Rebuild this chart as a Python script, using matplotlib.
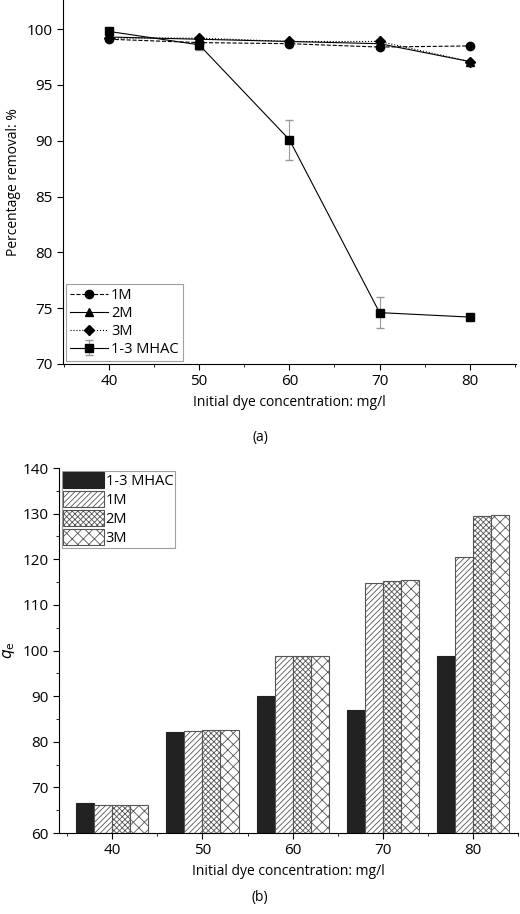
import matplotlib
matplotlib.use("Agg")
import matplotlib.pyplot as plt
import numpy as np
from matplotlib.ticker import MultipleLocator

plt.rcParams['font.family'] = ['Open Sans', 'DejaVu Sans']
plt.rcParams['hatch.linewidth'] = 0.6

conc = [40, 50, 60, 70, 80]
series = ["1-3 MHAC", "1M", "2M", "3M"]
removal_mhac = [99.8, 98.6, 90.1, 74.6, 74.2]
removal_mhac_err = [0.1, 0.5, 1.8, 1.4, 0.0]
removal_1m = [99.1, 98.8, 98.7, 98.4, 98.5]
removal_2m = [99.3, 99.1, 98.9, 98.7, 97.1]
removal_3m = [99.2, 99.2, 98.9, 98.9, 97.1]
qe_mhac = [66.6, 82.2, 90.1, 87.0, 98.9]
qe_1m = [66.1, 82.3, 98.7, 114.9, 120.5]
qe_2m = [66.1, 82.6, 98.8, 115.3, 129.6]
qe_3m = [66.2, 82.6, 98.9, 115.4, 129.7]

fig = plt.figure(figsize=(5.2, 9.14), dpi=100)

ax1 = fig.add_axes([0.121, 0.6018, 0.871, 0.398])
ax1.errorbar(conc, removal_mhac, yerr=removal_mhac_err, color='black', lw=0.8,
             marker='s', ms=6, ecolor='#999999', elinewidth=0.8, capsize=3, label=series[0])
ax1.plot(conc, removal_1m, color='black', lw=0.8, ls='--', marker='o', ms=6, label=series[1])
ax1.plot(conc, removal_2m, color='black', lw=0.8, ls='-', marker='^', ms=6, label=series[2])
ax1.plot(conc, removal_3m, color='black', lw=0.8, ls=':', marker='D', ms=5, label=series[3])
ax1.set_xlim(34.9, 85.1)
ax1.set_ylim(70, 102.6)
ax1.set_xticks(conc)
ax1.xaxis.set_minor_locator(MultipleLocator(5))
ax1.set_yticks([70, 75, 80, 85, 90, 95, 100])
ax1.set_xlabel("Initial dye concentration: mg/l", fontsize=10)
ax1.set_ylabel("Percentage removal: %", fontsize=10)
leg1 = ax1.legend(loc='lower left', fontsize=10.5, frameon=True, fancybox=False,
                  edgecolor='#888888', borderpad=0.3, labelspacing=0.2, handlelength=2.6,
                  handletextpad=0.2, borderaxespad=0.2)
leg1.get_frame().set_linewidth(0.8)
fig.text(0.5, 1 - 438/914, "(a)", ha='center', va='center', fontsize=10)

ax2 = fig.add_axes([0.1135, 0.0886, 0.883, 0.3993])
w = 2.0
offs = [-3, -1, 1, 3]
styles = [dict(color='#222222', edgecolor='#222222'),
          dict(color='white', edgecolor='#555555', hatch='//////'),
          dict(color='white', edgecolor='#555555', hatch='xxxxxx'),
          dict(color='white', edgecolor='#555555', hatch='xxx')]
for vals, off, st, lab in zip([qe_mhac, qe_1m, qe_2m, qe_3m], offs, styles, series):
    x = np.array(conc) + off
    ax2.bar(x, np.array(vals) - 60, bottom=60, width=w, linewidth=0.8, label=lab, **st)
ax2.set_xlim(34.1, 85.0)
ax2.set_ylim(60, 140)
ax2.set_xticks(conc)
ax2.xaxis.set_minor_locator(MultipleLocator(5))
ax2.set_yticks(range(60, 141, 10))
ax2.yaxis.set_minor_locator(MultipleLocator(5))
ax2.set_xlabel("Initial dye concentration: mg/l", fontsize=10)
ax2.set_ylabel(r"$q_\mathrm{e}$", fontsize=11)
leg2 = ax2.legend(loc='upper left', fontsize=10.5, frameon=True, fancybox=False,
                  edgecolor='#888888', borderpad=0.1, labelspacing=0.15, handlelength=2.8,
                  handleheight=1.3, handletextpad=0.1, borderaxespad=0.2)
leg2.get_frame().set_linewidth(0.8)
fig.text(0.5, 1 - 898/914, "(b)", ha='center', va='center', fontsize=10)

for ax in (ax1, ax2):
    ax.spines['top'].set_visible(False)
    ax.spines['right'].set_visible(False)
    ax.tick_params(axis='both', which='major', direction='out', length=4, labelsize=11)
    ax.tick_params(axis='both', which='minor', direction='out', length=2.5)

fig.savefig("out.png", dpi=100)
